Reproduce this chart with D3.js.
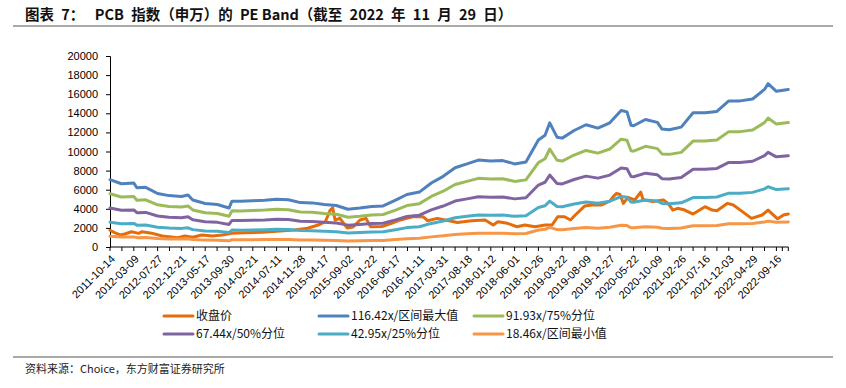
<!DOCTYPE html>
<html>
<head>
<meta charset="utf-8">
<script src="https://cdn.jsdelivr.net/npm/d3@7/dist/d3.min.js"></script>
<style>
  body { margin: 0; background: #fff; }
  svg { display: block; }
  text { white-space: pre; }
</style>
</head>
<body>
<svg id="chart" width="846" height="388"></svg>
<script>

// x-axis labels (category dates shown under the axis)
var labelDates = ['2011-10-14','2012-03-09','2012-07-27','2012-12-21','2013-05-17','2013-09-30',
  '2014-02-21','2014-07-11','2014-11-28','2015-04-17','2015-09-02','2016-01-22','2016-06-17',
  '2016-11-11','2017-03-31','2017-08-18','2018-01-12','2018-06-01','2018-10-26','2019-03-22',
  '2019-08-09','2019-12-27','2020-05-22','2020-10-09','2021-02-26','2021-07-16','2021-12-03',
  '2022-04-29','2022-09-16']
var endDate = '2022-11-25'

var yTicks = [0,2000,4000,6000,8000,10000,12000,14000,16000,18000,20000]

// PE band series
var bandDates = ['2011-10-14','2011-12-23','2012-03-09','2012-03-27','2012-05-18','2012-07-27',
  '2012-10-05','2012-12-21','2013-01-31','2013-03-01','2013-05-17','2013-07-26','2013-09-30',
  '2013-10-18','2013-12-09','2014-02-21','2014-05-02','2014-07-11','2014-09-19','2014-11-28',
  '2015-02-06','2015-04-17','2015-06-26','2015-09-02','2015-11-11','2016-01-22','2016-04-01',
  '2016-06-17','2016-08-26','2016-11-11','2017-01-20','2017-03-31','2017-06-09','2017-08-18',
  '2017-10-27','2018-01-12','2018-03-23','2018-06-01','2018-08-10','2018-10-26','2018-12-06',
  '2019-01-04','2019-02-18','2019-03-22','2019-05-31','2019-08-09','2019-10-18','2019-12-27',
  '2020-03-06','2020-04-11','2020-05-06','2020-05-22','2020-07-31','2020-10-09','2020-11-05',
  '2020-12-18','2021-02-26','2021-05-07','2021-07-16','2021-09-24','2021-12-03','2022-02-11',
  '2022-04-29','2022-07-08','2022-07-29','2022-09-16','2022-11-25']

var maxBand = [7050,6620,6700,6200,6250,5600,5380,5290,5450,4920,4550,4450,4080,4800,4780,4850,
  4900,5000,4950,4650,4620,4450,4350,3950,4080,4250,4300,4900,5500,5750,6700,7400,8300,8700,9100,
  9000,9050,8700,8900,11200,11700,13000,11500,11400,12200,12800,12450,13000,14300,14150,12750,
  12700,13350,13050,12350,12280,12550,14050,14050,14200,15300,15300,15500,16500,17100,16300,16500]

var p75Band = [5570,5230,5290,4900,4940,4420,4250,4180,4300,3880,3590,3510,3220,3790,3770,3830,
  3870,3950,3910,3670,3650,3510,3430,3120,3220,3360,3400,3870,4340,4540,5290,5840,6550,6870,7190,
  7110,7150,6870,7030,8840,9240,10260,9080,9000,9630,10110,9830,10260,11290,11170,10070,
  10030,10540,10300,9750,9700,9910,11090,11090,11210,12080,12080,12240,13030,13500,12870,13030]

var p50Band = [4080,3840,3880,3590,3620,3240,3120,3060,3160,2850,2640,2580,2360,2780,2770,2810,
  2840,2900,2870,2690,2680,2580,2520,2290,2360,2460,2490,2840,3190,3330,3880,4290,4810,5040,5270,
  5210,5240,5040,5160,6490,6780,7530,6660,6600,7070,7420,7210,7530,8280,8200,7390,
  7360,7730,7560,7150,7110,7270,8140,8140,8230,8860,8860,8980,9560,9910,9440,9560]

var p25Band = [2600,2440,2470,2290,2310,2070,1980,1950,2010,1820,1680,1640,1510,1770,1760,1790,
  1810,1850,1830,1720,1700,1640,1600,1460,1510,1570,1590,1810,2030,2120,2470,2730,3060,3210,3360,
  3320,3340,3210,3280,4130,4320,4800,4240,4210,4500,4720,4590,4800,5280,5220,4700,
  4690,4930,4810,4560,4530,4630,5180,5180,5240,5640,5640,5720,6090,6310,6010,6090]

var minBand = [1120,1050,1060,980,990,890,850,840,860,780,720,710,650,760,760,770,
  780,790,790,740,730,710,690,630,650,670,680,780,870,910,1060,1170,1320,1380,1440,
  1430,1440,1380,1410,1780,1860,2060,1820,1810,1930,2030,1970,2060,2270,2240,2020,
  2010,2120,2070,1960,1950,1990,2230,2230,2250,2430,2430,2460,2620,2710,2590,2620]

// closing price
var closeDates = ['2011-10-14','2011-11-11','2011-12-16','2012-01-13','2012-02-24','2012-04-06',
  '2012-04-27','2012-06-22','2012-08-24','2012-11-30','2013-01-11','2013-03-01','2013-04-26',
  '2013-06-28','2013-08-23','2013-10-18','2014-01-03','2014-04-18','2014-07-11','2014-10-24',
  '2015-01-09','2015-03-13','2015-04-24','2015-05-22','2015-06-05','2015-06-19','2015-07-17',
  '2015-08-28','2015-10-02','2015-11-13','2015-12-18','2016-01-15','2016-03-25','2016-05-27',
  '2016-07-15','2016-09-30','2016-12-02','2016-12-30','2017-02-24','2017-04-21','2017-06-23',
  '2017-09-15','2017-12-08','2018-01-26','2018-02-23','2018-04-20','2018-06-15','2018-08-03',
  '2018-10-05','2018-12-07','2019-01-18','2019-02-22','2019-04-05','2019-05-10','2019-06-07',
  '2019-08-02','2019-09-13','2019-11-08','2019-12-27','2020-01-17','2020-02-07','2020-02-28',
  '2020-03-20','2020-04-17','2020-05-29','2020-07-03','2020-07-17','2020-09-11','2020-11-13',
  '2020-12-11','2021-01-08','2021-02-05','2021-03-19','2021-05-07','2021-07-16','2021-08-27',
  '2021-09-24','2021-11-26','2021-12-31','2022-02-25','2022-04-22','2022-06-24','2022-07-29',
  '2022-09-23','2022-10-28','2022-11-25']

var closeValues = [1750,1500,1260,1360,1600,1430,1600,1450,1150,970,1150,1020,1260,1150,1260,1430,
  1500,1540,1650,1780,1960,2300,2650,3870,4100,2830,3000,2000,2100,2830,3000,2120,2150,2500,
  2830,3170,3170,2750,3000,2800,2560,2750,2830,2300,2650,2480,2120,2300,2120,2300,2300,3170,
  3170,2830,3350,4300,4400,4400,4800,5270,5620,5500,4570,5200,4920,5750,4950,4750,4920,4570,
  3870,4050,3870,3450,4220,3870,3800,4570,4400,3700,3000,3350,3870,2950,3350,3450]

var seriesNames = ['收盘价','116.42x/区间最大值','91.93x/75%分位','67.44x/50%分位','42.95x/25%分位','18.46x/区间最小值']
var seriesColors = ['#E46C0A','#4F81BD','#9BBB59','#8064A2','#4BACC6','#F79646']

var parse = d3.timeParse('%Y-%m-%d')

var svg = d3.select('#chart')

var x0 = 110, step = 23.8
var xs = labelDates.map(function(d, i) { return x0 + i * step })
var xEnd = x0 + (labelDates.length - 0.5) * step

var x = d3.scaleTime()
  .domain(labelDates.concat([endDate]).map(parse))
  .range(xs.concat([xEnd]))

var y = d3.scaleLinear()
  .domain([0, 20000])
  .range([247, 56])

// title + rules (en spaces to get the wide half-width spacing of the original)
svg.append('text')
  .attr('x', 25).attr('y', 20)
  .style('font-family', '"Noto Sans CJK SC", sans-serif')
  .style('font-size', '14.5px')
  .style('font-weight', 'bold')
  .style('fill', '#111')
  .text('图表\u20027：\u2002 PCB\u2002指数（申万）的\u2002PE Band（截至\u20022022\u2002年\u200211\u2002月\u200229\u2002日）')

svg.append('line').attr('x1', 13).attr('x2', 833).attr('y1', 26).attr('y2', 26)
  .style('stroke', '#8c8c8c').style('stroke-width', 1.5)
svg.append('line').attr('x1', 13).attr('x2', 833).attr('y1', 357).attr('y2', 357)
  .style('stroke', '#8c8c8c').style('stroke-width', 1.5)

svg.append('text')
  .attr('x', 25).attr('y', 373)
  .style('font-family', '"Noto Sans CJK SC", sans-serif')
  .style('font-size', '11px')
  .style('fill', '#222')
  .text('资料来源：Choice，东方财富证券研究所')

// y axis
var yAxis = svg.append('g')
  .attr('transform', 'translate(' + x0 + ',0)')
  .call(d3.axisLeft(y).tickValues(yTicks).tickSize(4).tickPadding(8).tickFormat(d3.format('d')))
yAxis.selectAll('text')
  .style('font-family', '"Liberation Sans", Arial, sans-serif')
  .style('font-size', '11px')
  .style('fill', '#000')
yAxis.selectAll('line, path').style('stroke', '#000')

// x axis (category style ticks: every label and half way between)
var xAxis = svg.append('g')
xAxis.append('line')
  .attr('x1', x0).attr('x2', xEnd)
  .attr('y1', y(0)).attr('y2', y(0))
  .style('stroke', '#000')

var tickPos = []
labelDates.forEach(function(d, i) {
  var a = x(parse(d))
  var b = i < labelDates.length - 1 ? x(parse(labelDates[i + 1])) : xEnd
  tickPos.push(a, (a + b) / 2)
})
tickPos.push(xEnd)

xAxis.selectAll('.xtick')
  .data(tickPos)
  .enter().append('line')
  .attr('class', 'xtick')
  .attr('x1', function(d) { return d }).attr('x2', function(d) { return d })
  .attr('y1', y(0)).attr('y2', y(0) + 4)
  .style('stroke', '#000')

xAxis.selectAll('.xlabel')
  .data(labelDates)
  .enter().append('text')
  .attr('class', 'xlabel')
  .attr('transform', function(d) {
    return 'translate(' + (x(parse(d)) + 3) + ',' + (y(0) + 10) + ') rotate(-45)'
  })
  .attr('text-anchor', 'end')
  .attr('dy', '0.35em')
  .style('font-family', '"Liberation Sans", Arial, sans-serif')
  .style('font-size', '11px')
  .style('fill', '#000')
  .text(function(d) { return d })

// lines
function toPoints(dates, values) {
  return dates.map(function(d, i) { return { date: parse(d), value: values[i] } })
}

var seriesData = [
  toPoints(closeDates, closeValues),
  toPoints(bandDates, maxBand),
  toPoints(bandDates, p75Band),
  toPoints(bandDates, p50Band),
  toPoints(bandDates, p25Band),
  toPoints(bandDates, minBand)
]

var line = d3.line()
  .x(function(d) { return x(d.date) })
  .y(function(d) { return y(d.value) })

svg.append('g').selectAll('path')
  .data(seriesData)
  .enter().append('path')
  .attr('d', line)
  .style('fill', 'none')
  .style('stroke', function(d, i) { return seriesColors[i] })
  .style('stroke-width', 3)
  .style('stroke-linejoin', 'round')
  .style('stroke-linecap', 'round')

// legend
var legendX = [164, 319, 474]
var legendY = [316, 334]

var legend = svg.append('g').selectAll('g')
  .data(seriesNames)
  .enter().append('g')
  .attr('transform', function(d, i) {
    return 'translate(' + legendX[i % 3] + ',' + legendY[Math.floor(i / 3)] + ')'
  })

legend.append('line')
  .attr('x1', 0).attr('x2', 29)
  .style('stroke', function(d, i) { return seriesColors[i] })
  .style('stroke-width', 3)
  .style('stroke-linecap', 'round')

legend.append('text')
  .attr('x', 32).attr('dy', '0.35em')
  .style('font-family', '"Noto Sans CJK SC", sans-serif')
  .style('font-size', '12px')
  .style('fill', '#111')
  .text(function(d) { return d })

</script>
</body>
</html>
